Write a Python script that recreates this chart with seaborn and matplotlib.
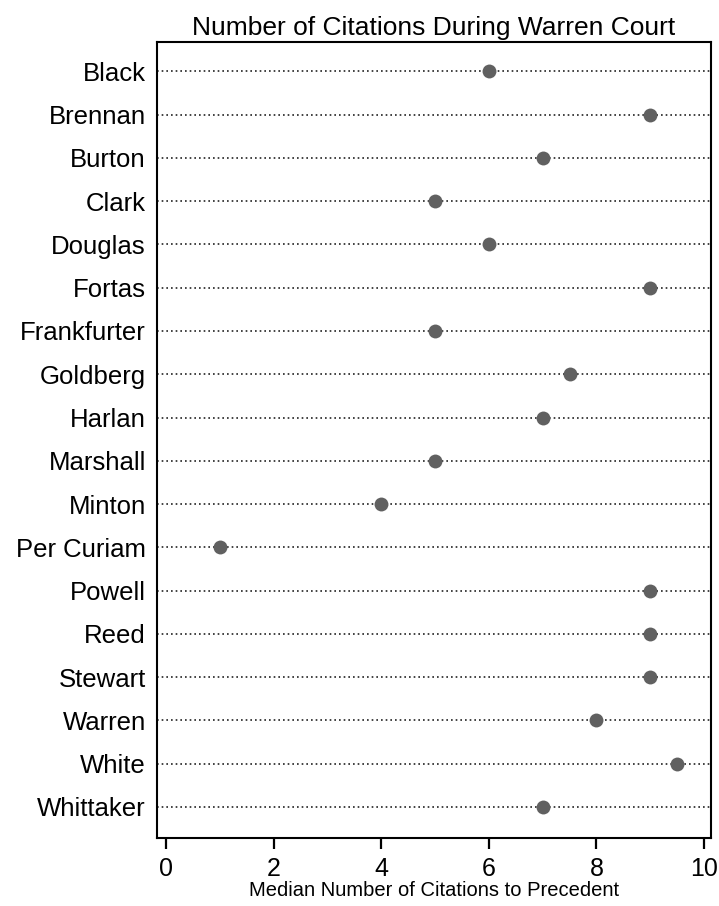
import matplotlib
matplotlib.use("Agg")
import matplotlib.pyplot as plt
import seaborn as sns
import pandas as pd

justices = ["Black", "Brennan", "Burton", "Clark", "Douglas", "Fortas",
            "Frankfurter", "Goldberg", "Harlan", "Marshall", "Minton",
            "Per Curiam", "Powell", "Reed", "Stewart", "Warren", "White",
            "Whittaker"]
median_citations = [6, 9, 7, 5, 6, 9, 5, 7.5, 7, 5, 4, 1, 9, 9, 9, 8, 9.5, 7]
x_ticks = [0, 2, 4, 6, 8, 10]

df = pd.DataFrame({"justice": justices, "citations": median_citations})

sns.set_style("white")
plt.rcParams["font.family"] = ["Liberation Sans", "DejaVu Sans"]
plt.rcParams["text.color"] = "black"
plt.rcParams["axes.labelcolor"] = "black"
plt.rcParams["xtick.color"] = "black"
plt.rcParams["ytick.color"] = "black"

fig = plt.figure(figsize=(7.19, 9.06), dpi=100)
ax = fig.add_axes([157 / 719, 1 - 838 / 906, (711 - 157) / 719, (838 - 42) / 906])

# dotted guide line across each row
for i in range(len(justices)):
    ax.axhline(i, color="#222222", linestyle=(0, (1, 1.8)), linewidth=1.2, zorder=1)

sns.stripplot(data=df, x="citations", y="justice", order=justices,
              jitter=False, color="#606060", size=10, linewidth=0,
              ax=ax, zorder=3)

ax.set_xlim(-0.17, 10.13)
ax.set_ylim(len(justices) - 0.28, -0.68)
ax.set_xticks(x_ticks)
ax.set_xticklabels([str(t) for t in x_ticks], fontsize=18)
ax.tick_params(axis="x", direction="out", length=8, width=1.6, pad=6,
               color="black", bottom=True)
ax.tick_params(axis="y", length=0, pad=8, labelsize=18.5)

for s in ax.spines.values():
    s.set_color("black")
    s.set_linewidth(1.5)

ax.set_ylabel("")
ax.set_xlabel("Median Number of Citations to Precedent", fontsize=14.5, labelpad=0)
ax.set_title("Number of Citations During Warren Court", fontsize=19, pad=5)

fig.savefig("out.png", dpi=100)
